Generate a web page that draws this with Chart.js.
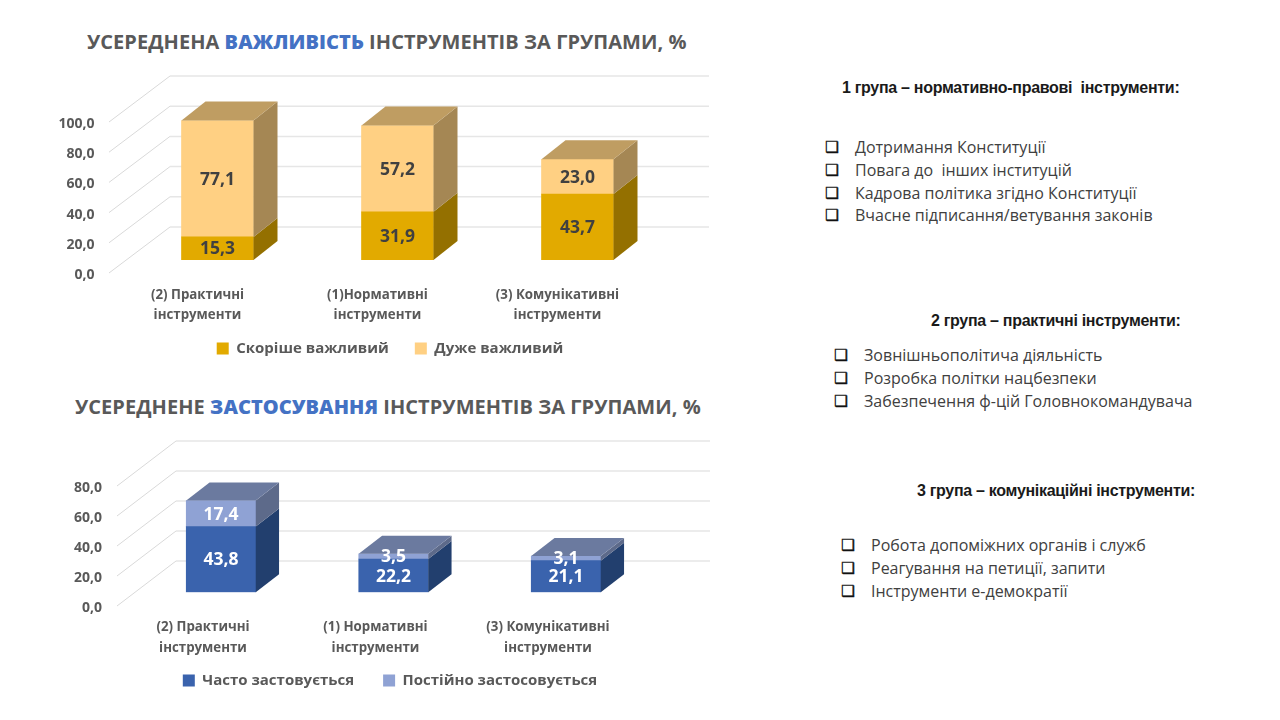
<!DOCTYPE html>
<html lang="uk">
<head>
<meta charset="utf-8">
<title>Інструменти за групами</title>
<script src="https://cdn.jsdelivr.net/npm/chart.js@4"></script>
<style>
  html, body { margin: 0; padding: 0; width: 1280px; height: 720px; overflow: hidden; background: #fff; }
  canvas { position: absolute; left: 0; }
  .txt { position: absolute; white-space: pre; line-height: 24px; margin-top: -12px; }
  .title { font: bold 20px "Open Sans", sans-serif; color: #595959; line-height: 24px; letter-spacing: 0.05px; }
  .title b { color: #4472C4; }
  .head { font: bold 16px "Liberation Sans", sans-serif; color: #1a1a1a; line-height: 24px; letter-spacing: -0.3px; }
  .item { font: 16px "Open Sans", sans-serif; color: #404040; line-height: 24px; }
  .mark { font: 15.5px "DejaVu Sans", sans-serif; color: #111; line-height: 24px; -webkit-text-stroke: 0.4px #111; }
</style>
</head>
<body>
<div class="txt title" style="left:87px;top:42px">УСЕРЕДНЕНА <b>ВАЖЛИВІСТЬ</b> ІНСТРУМЕНТІВ ЗА ГРУПАМИ, %</div>
<div class="txt title" style="left:75px;top:407px">УСЕРЕДНЕНЕ <b>ЗАСТОСУВАННЯ</b> ІНСТРУМЕНТІВ ЗА ГРУПАМИ, %</div>
<canvas id="importanceChart" style="top:0;width:780px;height:366px" width="780" height="366"></canvas>
<canvas id="usageChart" style="top:370px;width:780px;height:328px" width="780" height="328"></canvas>
<div id="groups"></div>
<script>
// Top chart
const importanceCategories = [
  ["(2) Практичні", "інструменти"],
  ["(1)Нормативні", "інструменти"],
  ["(3) Комунікативні", "інструменти"],
];
const ratherImportant = [15.3, 31.9, 43.7];
const veryImportant = [77.1, 57.2, 23.0];

// Bottom chart
const usageCategories = [
  ["(2) Практичні", "інструменти"],
  ["(1) Нормативні", "інструменти"],
  ["(3) Комунікативні", "інструменти"],
];
const oftenApplied = [43.8, 22.2, 21.1];
const alwaysApplied = [17.4, 3.5, 3.1];

// Right column
const groupHeads = [
  "1 група – нормативно-правові  інструменти:",
  "2 група – практичні інструменти:",
  "3 група – комунікаційні інструменти:",
];
const groupItems = [
  ["Дотримання Конституції", "Повага до  інших інституцій", "Кадрова політика згідно Конституції", "Вчасне підписання/ветування законів"],
  ["Зовнішньополітича діяльність", "Розробка політки нацбезпеки", "Забезпечення ф-цій Головнокомандувача"],
  ["Робота допоміжних органів і служб", "Реагування на петиції, запити", "Інструменти е-демократії"],
];
const groupLayout = [
  { headX: 842, headY: 88, markX: 825, textX: 855, y: 147 },
  { headX: 931, headY: 321, markX: 834, textX: 864, y: 355 },
  { headX: 917, headY: 491, markX: 841, textX: 871, y: 545 },
];

function addText(cls, text, x, y) {
  const el = document.createElement("div");
  el.className = "txt " + cls;
  el.textContent = text;
  el.style.left = x + "px";
  el.style.top = y + "px";
  document.getElementById("groups").appendChild(el);
}
groupHeads.forEach((head, g) => {
  const pos = groupLayout[g];
  addText("head", head, pos.headX, pos.headY);
  groupItems[g].forEach((item, i) => {
    addText("mark", "❑", pos.markX, pos.y + i * 22.8);
    addText("item", item, pos.textX, pos.y + i * 22.8);
  });
});

// Draws the back wall and the side wall, then the side and top faces of the bars
const box3d = {
  id: "box3d",
  afterLayout(chart) {
    // tick labels get clipped to the scale box, let them spill out of it
    chart.scales.y.left = 0;
    chart.scales.x.bottom = chart.height;
  },
  beforeDatasetsDraw(chart, args, opts) {
    const ctx = chart.ctx;
    const y = chart.scales.y;
    ctx.save();
    y.ticks.forEach((tick) => {
      const p = y.getPixelForValue(tick.value);
      ctx.strokeStyle = "#d9d9d9";
      ctx.lineWidth = 1;
      ctx.beginPath();
      ctx.moveTo(opts.wallFront, p + opts.drop);
      ctx.lineTo(opts.wallBack, p - opts.rise);
      ctx.stroke();
      ctx.strokeStyle = "#e6e6e6";
      ctx.lineWidth = 1.5;
      ctx.beginPath();
      ctx.moveTo(opts.wallBack, p - opts.rise);
      ctx.lineTo(opts.wallRight, p - opts.rise);
      ctx.stroke();
    });
    ctx.restore();
  },
  afterDatasetsDraw(chart, args, opts) {
    const ctx = chart.ctx;
    const last = chart.data.datasets.length - 1;
    const face = (points, color) => {
      ctx.fillStyle = color;
      ctx.beginPath();
      points.forEach(([px, py], i) => (i ? ctx.lineTo(px, py) : ctx.moveTo(px, py)));
      ctx.closePath();
      ctx.fill();
    };
    ctx.save();
    chart.data.datasets.forEach((ds, d) => {
      chart.getDatasetMeta(d).data.forEach((bar) => {
        const { x, y, base, width } = bar.getProps(["x", "y", "base", "width"], true);
        const left = x - width / 2;
        const right = x + width / 2;
        face([[right, y], [right + opts.dx, y - opts.dy], [right + opts.dx, base - opts.dy], [right, base]], opts.sides[d]);
        if (d === last) {
          face([[left, y], [left + opts.dx, y - opts.dy], [right + opts.dx, y - opts.dy], [right, y]], opts.top);
        }
      });
    });
    // value labels
    ctx.textAlign = "center";
    ctx.textBaseline = "middle";
    ctx.font = 'bold 17.5px "Open Sans", sans-serif';
    ctx.fillStyle = opts.labelColor;
    chart.data.datasets.forEach((ds, d) => {
      chart.getDatasetMeta(d).data.forEach((bar, i) => {
        const { x, y, base } = bar.getProps(["x", "y", "base"], true);
        ctx.fillText(ds.data[i].toFixed(1).replace(".", ","), x, (y + base) / 2 + 1);
      });
    });
    ctx.restore();
  },
};
Chart.register(box3d);

function makeChart(id, cats, series, o) {
  return new Chart(document.getElementById(id), {
    type: "bar",
    data: {
      labels: cats,
      datasets: series.map((s) => ({
        label: s.label,
        data: s.data,
        backgroundColor: s.color,
        barThickness: o.barWidth,
      })),
    },
    options: {
      responsive: false,
      animation: false,
      layout: { padding: o.padding },
      scales: {
        x: {
          stacked: true,
          grid: { display: false },
          border: { display: false },
          afterFit: (scale) => { scale.height = o.xHeight; },
          ticks: {
            color: "#595959",
            font: { family: "Open Sans", size: 13.3, weight: "bold", lineHeight: o.xLine },
            padding: o.xPad,
            labelOffset: o.xShift,
            maxRotation: 0,
            minRotation: 0,
          },
        },
        y: {
          stacked: true,
          min: 0,
          max: o.max,
          grid: { display: false, drawTicks: false },
          border: { display: false },
          afterFit: (scale) => { scale.width = o.yWidth; },
          ticks: {
            stepSize: 20,
            color: "#595959",
            font: { family: "Open Sans", size: 14, weight: "bold" },
            padding: o.yPad,
            labelOffset: o.drop + 2,
            callback: (v) => v.toFixed(1).replace(".", ","),
          },
        },
      },
      plugins: {
        title: { display: false },
        tooltip: { enabled: false },
        legend: {
          position: "bottom",
          labels: {
            boxWidth: 12,
            boxHeight: 12,
            color: "#595959",
            font: { family: "Open Sans", size: 15, weight: "bold" },
            padding: o.legendGap,
          },
        },
        box3d: {
          wallFront: o.wallFront,
          wallBack: o.wallBack,
          wallRight: o.wallRight,
          drop: o.drop,
          rise: o.rise,
          dx: o.dx,
          dy: o.dy,
          sides: series.map((s) => s.side),
          top: o.top,
          labelColor: o.labelColor,
        },
      },
    },
  });
}

makeChart("importanceChart", importanceCategories, [
  { label: "Скоріше важливий", data: ratherImportant, color: "#E2AA00", side: "#947000" },
  { label: "Дуже важливий", data: veryImportant, color: "#FFD083", side: "#A58754" },
], {
  max: 100, barWidth: 72, legendGap: 26,
  padding: { left: 112.5, right: 112.5, top: 109, bottom: 0 },
  yWidth: 15, yPad: 33, xHeight: 55, xPad: 17.5, xLine: 1.5, xShift: -20,
  wallFront: 109, wallBack: 170, wallRight: 709, drop: 13, rise: 33,
  dx: 24, dy: 19, top: "#BF9D62", labelColor: "#404040",
});

makeChart("usageChart", usageCategories, [
  { label: "Часто застовується", data: oftenApplied, color: "#3A63AD", side: "#223F6E" },
  { label: "Постійно застосовується", data: alwaysApplied, color: "#8FA2D4", side: "#5D6A8A" },
], {
  max: 80, barWidth: 69.5, legendGap: 29,
  padding: { left: 127.75, right: 127.75, top: 102.3, bottom: 0 },
  yWidth: 7, yPad: 32.75, xHeight: 51.7, xPad: 16, xLine: 1.6, xShift: -18,
  wallFront: 117, wallBack: 176, wallRight: 710, drop: 13.7, rise: 31.3,
  dx: 23.3, dy: 18, top: "#6B7A9F", labelColor: "#ffffff",
});
</script>
</body>
</html>
